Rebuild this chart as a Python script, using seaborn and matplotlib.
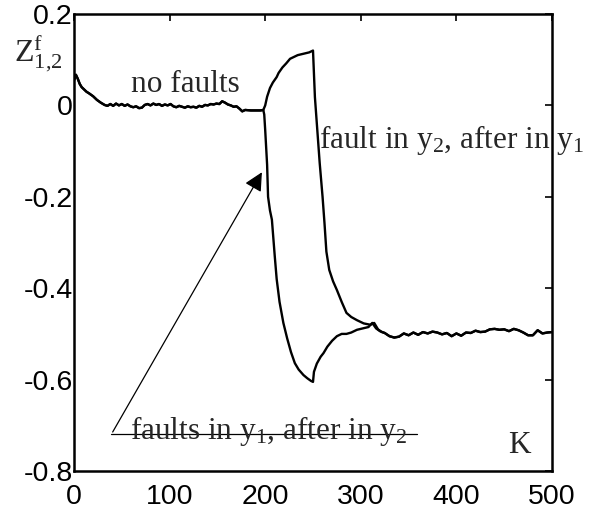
import matplotlib
matplotlib.use("Agg")
import matplotlib.pyplot as plt
import seaborn as sns
import pandas as pd

# === DATA ===
# shared "no faults" part, K = 0 .. 198
k_base = [0, 2, 4, 6, 8, 10, 13, 16, 20, 24, 28, 32, 35, 38, 41, 44, 47, 50, 53, 56,
          59, 62, 65, 68, 71, 74, 77, 80, 83, 86, 89, 92, 95, 98, 101, 104, 107, 110,
          113, 116, 119, 122, 125, 128, 131, 134, 137, 140, 143, 146, 149, 152, 155,
          158, 161, 164, 167, 170, 173, 176, 179, 185, 190, 195, 198]
z_base = [0.055, 0.067, 0.058, 0.047, 0.040, 0.036, 0.030, 0.026, 0.020, 0.012, 0.006,
          0.001, -0.001, 0.003, -0.001, 0.004, 0.000, 0.003, -0.001, 0.002, -0.002,
          -0.004, -0.002, -0.006, -0.005, 0.001, 0.003, 0.000, 0.004, 0.001, 0.003,
          -0.001, 0.002, 0.000, 0.003, -0.002, -0.004, -0.001, -0.003, -0.005, -0.002,
          -0.004, -0.003, -0.005, -0.001, -0.003, 0.001, 0.000, 0.003, 0.002, 0.004,
          0.003, 0.009, 0.006, 0.002, 0.000, -0.003, -0.002, -0.007, -0.013, -0.010,
          -0.011, -0.011, -0.011, -0.010]

# fault in y2, after in y1
k_y2y1 = [200, 202, 205, 208, 212, 214, 218, 222, 226, 230, 234, 238, 242, 246, 249,
          250, 251, 252, 254, 257, 260, 262, 264, 267, 271, 275, 280, 285, 290, 296,
          303, 310, 314, 318, 322]
z_y2y1 = [0.000, 0.019, 0.038, 0.050, 0.062, 0.071, 0.083, 0.092, 0.102, 0.106, 0.110,
          0.112, 0.114, 0.116, 0.119, 0.120, 0.070, 0.018, -0.040, -0.126, -0.200,
          -0.257, -0.320, -0.360, -0.385, -0.404, -0.430, -0.454, -0.463, -0.470,
          -0.477, -0.480, -0.476, -0.490, -0.496]

# faults in y1, after in y2
k_y1y2 = [199, 200, 202, 203, 205, 207, 210, 212, 215, 219, 223, 227, 231, 235, 240,
          244, 248, 250, 251, 254, 258, 261, 265, 270, 275, 280, 285, 290, 296, 302,
          308, 312, 316, 320]
z_y1y2 = [-0.020, -0.054, -0.130, -0.200, -0.230, -0.250, -0.330, -0.380, -0.430,
          -0.476, -0.510, -0.540, -0.564, -0.578, -0.590, -0.597, -0.603, -0.605,
          -0.583, -0.565, -0.550, -0.542, -0.528, -0.515, -0.505, -0.500, -0.500,
          -0.497, -0.491, -0.488, -0.485, -0.476, -0.488, -0.494]

# shared steady part after both faults
k_tail = [325, 330, 335, 340, 345, 350, 355, 360, 365, 370, 375, 380, 385, 390, 395,
          400, 405, 410, 415, 420, 425, 430, 435, 440, 445, 450, 455, 460, 465, 470,
          475, 480, 485, 490, 495, 500]
z_tail = [-0.498, -0.505, -0.508, -0.506, -0.499, -0.503, -0.497, -0.502, -0.496,
          -0.499, -0.495, -0.497, -0.501, -0.498, -0.505, -0.499, -0.504, -0.497,
          -0.498, -0.493, -0.496, -0.495, -0.490, -0.489, -0.491, -0.490, -0.494,
          -0.489, -0.492, -0.497, -0.503, -0.503, -0.492, -0.499, -0.497, -0.496]

x_ticks = [0, 100, 200, 300, 400, 500]
y_ticks = [0.2, 0, -0.2, -0.4, -0.6, -0.8]
y_ticklabels = ["0.2", "0", "-0.2", "-0.4", "-0.6", "-0.8"]

df1 = pd.DataFrame({"K": k_base + k_y2y1 + k_tail, "Z": z_base + z_y2y1 + z_tail})
df2 = pd.DataFrame({"K": k_base + k_y1y2 + k_tail, "Z": z_base + z_y1y2 + z_tail})

# === STYLE ===
sns.set_style("white")
plt.rcParams["font.family"] = ["Liberation Sans", "DejaVu Sans"]
plt.rcParams["mathtext.fontset"] = "custom"
plt.rcParams["mathtext.rm"] = "Liberation Serif"
plt.rcParams["mathtext.it"] = "Liberation Serif:italic"
serif = ["Liberation Serif", "DejaVu Serif"]

fig = plt.figure(figsize=(5.95, 5.17), dpi=100)
ax = fig.add_axes([74 / 595, 1 - 471 / 517, (552 - 74) / 595, (471 - 14) / 517])

sns.lineplot(data=df1, x="K", y="Z", sort=False, estimator=None, color="black", lw=1.7, ax=ax)
sns.lineplot(data=df2, x="K", y="Z", sort=False, estimator=None, color="black", lw=1.7, ax=ax)

ax.set_xlim(0, 500)
ax.set_ylim(-0.8, 0.2)
ax.set_xticks(x_ticks)
ax.set_xticklabels([str(t) for t in x_ticks])
ax.set_yticks(y_ticks)
ax.set_yticklabels(y_ticklabels)
ax.set_xlabel("")
ax.set_ylabel("")
ax.tick_params(direction="in", length=5, width=1.2, top=True, right=True, labelsize=20.5, colors="black")
ax.tick_params(axis="x", pad=9)
ax.tick_params(axis="y", pad=1)
for s in ax.spines.values():
    s.set_visible(True)
    s.set_linewidth(1.8)
    s.set_color("black")

# === ANNOTATIONS ===
ax.text(116, 0.045, "no faults", family=serif, fontsize=22.5, ha="center", va="center")
ax.text(256, -0.076, "fault in y$_2$, after in y$_1$", family=serif, fontsize=22.5,
        ha="left", va="center", clip_on=False)
ax.text(59, -0.729, "faults in y$_1$, after in y$_2$", family=serif, fontsize=22.5,
        ha="left", va="baseline")
ax.text(466, -0.745, "K", family=serif, fontsize=22.5, ha="center", va="center")
ax.plot([39, 359], [-0.72, -0.72], color="black", lw=0.9)
ax.annotate("", xy=(198, -0.141), xytext=(39, -0.72),
            arrowprops=dict(arrowstyle="-|>", color="black", lw=0.9, mutation_scale=28))

fig.text(14 / 595, 1 - 61 / 517, r"$\mathrm{Z}^{\mathrm{f}}_{\mathrm{1{,}2}}$", fontsize=23,
         ha="left", va="baseline")

fig.savefig("out.png", dpi=100)
